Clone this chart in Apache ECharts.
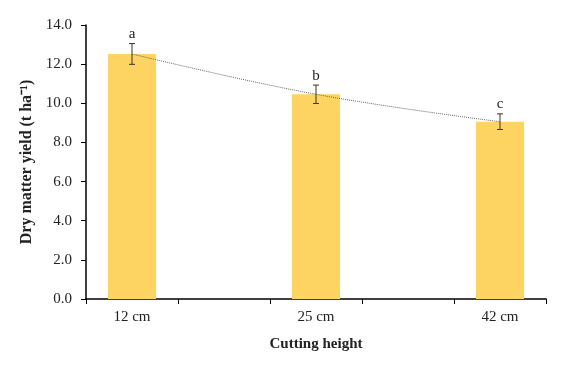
<!DOCTYPE html>
<html><head><meta charset="utf-8">
<script src="https://cdn.jsdelivr.net/npm/echarts@6/dist/echarts.min.js"></script>
<style>html,body{margin:0;padding:0;background:#fff}#c{width:567px;height:365px}</style>
</head><body><div id="c"></div>
<script>
const categories = ['12 cm', '', '25 cm', '', '42 cm'];
const yieldValues = [12.52, null, 10.46, null, 9.06];
const errorValues = [0.53, null, 0.47, null, 0.40];
const letters = ['a', null, 'b', null, 'c'];
const yTicks = { min: 0, max: 14, interval: 2 };

const FONT = 'Liberation Serif';
const errData = [];
yieldValues.forEach((v, i) => { if (v != null) errData.push([i, v, errorValues[i], letters[i]]); });

const chart = echarts.init(document.getElementById('c'));
chart.setOption({
  animation: false,
  grid: { left: 86, right: 21, top: 25, bottom: 66 },
  xAxis: {
    type: 'category', data: categories,
    axisLine: { lineStyle: { color: '#000', width: 1.5 } },
    axisTick: { show: true, length: 5, lineStyle: { color: '#000' } },
    axisLabel: { fontFamily: FONT, fontSize: 15, color: '#222', margin: 11 },
    name: 'Cutting height', nameLocation: 'middle', nameGap: 38,
    nameTextStyle: { fontFamily: FONT, fontSize: 15, fontWeight: 'bold', color: '#222' }
  },
  yAxis: {
    type: 'value', min: yTicks.min, max: yTicks.max, interval: yTicks.interval,
    axisLine: { show: true, lineStyle: { color: '#000', width: 1.5 } },
    axisTick: { show: true, length: 5, lineStyle: { color: '#000' } },
    splitLine: { show: false },
    axisLabel: { fontFamily: FONT, fontSize: 15, color: '#222', margin: 14, formatter: v => v.toFixed(1) },
    name: 'Dry matter yield (t ha\u207B\u00B9)', nameLocation: 'middle', nameGap: 40,
    nameTextStyle: { fontFamily: FONT, fontSize: 16, fontWeight: 'bold', color: '#222' }
  },
  series: [
    {
      type: 'bar', data: yieldValues, barWidth: 48,
      itemStyle: { color: '#FDD462' }, z: 2
    },
    {
      type: 'line', data: yieldValues, connectNulls: true, smooth: 0.4,
      symbol: 'none', lineStyle: { color: '#666', width: 1, type: [1, 1] }, z: 3
    },
    {
      type: 'custom', data: errData, z: 4,
      renderItem: function (params, api) {
        const x = api.value(0), v = api.value(1), e = api.value(2);
        const top = api.coord([x, v + e]);
        const bot = api.coord([x, v - e]);
        const c = 3;
        const style = { stroke: '#3a3520', lineWidth: 1 };
        return {
          type: 'group',
          children: [
            { type: 'line', shape: { x1: top[0], y1: top[1], x2: bot[0], y2: bot[1] }, style },
            { type: 'line', shape: { x1: top[0] - c, y1: top[1], x2: top[0] + c, y2: top[1] }, style },
            { type: 'line', shape: { x1: bot[0] - c, y1: bot[1], x2: bot[0] + c, y2: bot[1] }, style },
            { type: 'text', style: { text: letters[x], x: top[0], y: top[1] - 2, textAlign: 'center', textVerticalAlign: 'bottom', fontFamily: FONT, fontSize: 15, fill: '#222' } }
          ]
        };
      }
    }
  ]
});
</script></body></html>
